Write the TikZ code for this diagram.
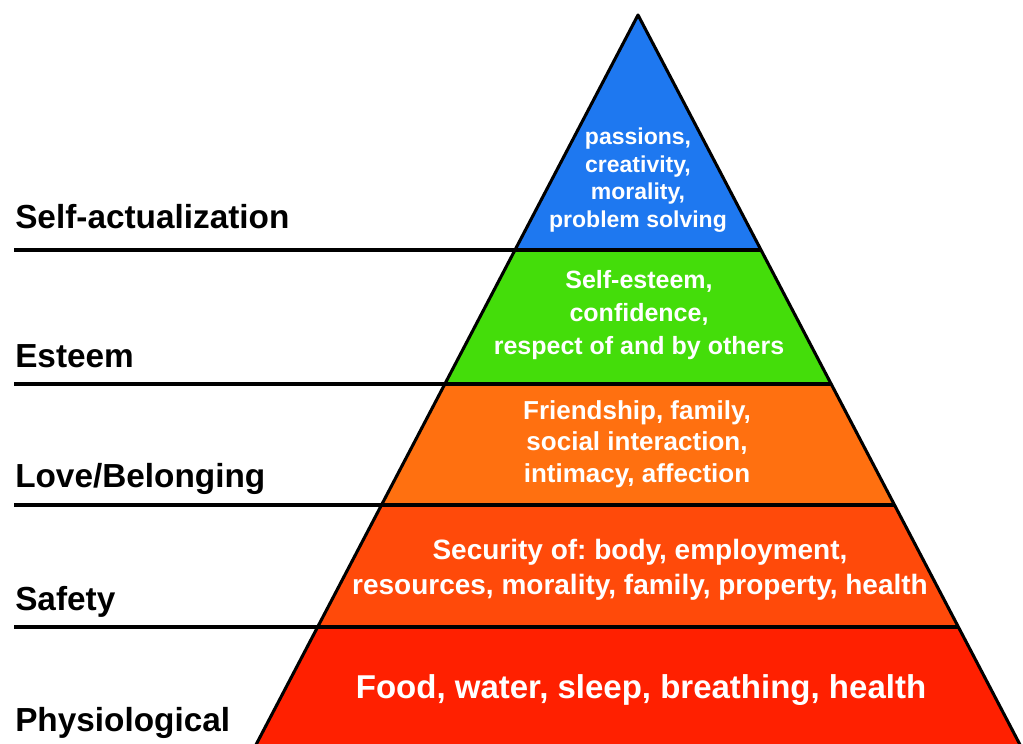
\documentclass[tikz,border=0pt]{standalone}
\usepackage{fontspec}
\setmainfont{Liberation Sans}
\frenchspacing
\definecolor{SelfBlue}{RGB}{30, 120, 240}
\definecolor{EsteemGreen}{RGB}{68, 221, 10}
\definecolor{LoveOrange}{RGB}{255, 112, 16}
\definecolor{SafetyOrange}{RGB}{255, 74, 10}
\definecolor{PhysioRed}{RGB}{255, 32, 0}

\begin{document}
\begin{tikzpicture}[
    x=0.75pt, y=-0.75pt,
    outline/.style={draw=black, line width=2.3pt, line join=round},
    divider/.style={draw=black, line width=2.3pt},
    level/.style={anchor=base west, inner sep=0pt, font=\fontsize{25}{30}\selectfont\bfseries},
    need/.style={align=center, inner sep=0pt, text=white}
]
    \useasboundingbox (0,0) rectangle (1023,743);
    \clip (0,0) rectangle (1023,743);

    % Stufen der Pyramide
    \coordinate (apex) at (638,15);
    \fill[SelfBlue] (apex) -- (761,250) -- (515,250) -- cycle;
    \fill[EsteemGreen] (515,250) -- (761,250) -- (831.2,384) -- (444.8,384) -- cycle;
    \fill[LoveOrange] (444.8,384) -- (831.2,384) -- (894.5,505) -- (381.5,505) -- cycle;
    \fill[SafetyOrange] (381.5,505) -- (894.5,505) -- (958.4,627) -- (317.6,627) -- cycle;
    \fill[PhysioRed] (317.6,627) -- (958.4,627) -- (1028,760) -- (248,760) -- cycle;

    % Trennlinien
    \draw[divider] (14,250) -- (761,250);
    \draw[divider] (14,384) -- (831.2,384);
    \draw[divider] (14,505) -- (894.5,505);
    \draw[divider] (14,627) -- (958.4,627);

    % Umriss
    \draw[outline] (248,760) -- (apex) -- (1028,760);

    % Bezeichnungen links
    \node[level] (lblSelf) at (15,228) {Self-actualization};
    \node[level] (lblEsteem) at (15,367) {Esteem};
    \node[level] (lblLove) at (15,487) {Love/Belonging};
    \node[level] (lblSafety) at (15,610) {Safety};
    \node[level] (lblPhysio) at (15,731) {Physiological};

    % Bedürfnisse
    \node[need, font=\fontsize{17.25}{20.8}\selectfont\bfseries] (needSelf) at (638,180)
        {passions,\\creativity,\\morality,\\problem solving};
    \node[need, font=\fontsize{18.75}{24.75}\selectfont\bfseries] (needEsteem) at (639,315)
        {Self-esteem,\\confidence,\\respect of and by others};
    \node[need, font=\fontsize{19.5}{23.5}\selectfont\bfseries] (needLove) at (637,444)
        {Friendship, family,\\social interaction,\\intimacy, affection};
    \node[need, font=\fontsize{21}{26.5}\selectfont\bfseries] (needSafety) at (640,570)
        {Security of: body, employment,\\resources, morality, family, property, health};
    \node[need, anchor=base, font=\fontsize{24.75}{30}\selectfont\bfseries] (needPhysio) at (641,698)
        {Food, water, sleep, breathing, health};
\end{tikzpicture}
\end{document}
